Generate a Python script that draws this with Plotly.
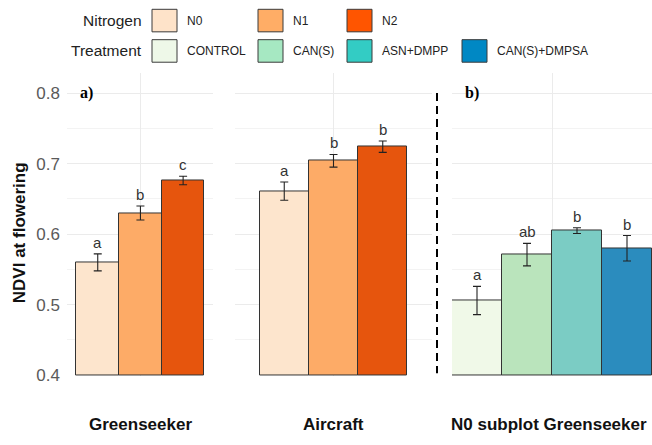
import plotly.graph_objects as go

# ---------------- data ----------------
nitrogen = ["N0", "N1", "N2"]
greenseeker = [0.560, 0.630, 0.676]
greenseeker_err = [0.012, 0.010, 0.006]
greenseeker_letters = ["a", "b", "c"]

aircraft = [0.661, 0.704, 0.724]
aircraft_err = [0.013, 0.009, 0.008]
aircraft_letters = ["a", "b", "b"]

treatments = ["CONTROL", "CAN(S)", "ASN+DMPP", "CAN(S)+DMPSA"]
n0_greenseeker = [0.506, 0.571, 0.605, 0.580]
n0_greenseeker_err = [0.020, 0.016, 0.004, 0.018]
n0_greenseeker_letters = ["a", "ab", "b", "b"]

panel_names = ["Greenseeker", "Aircraft", "N0 subplot Greenseeker"]
panel_tags = ["a)", None, "b)"]
y_ticks = [0.4, 0.5, 0.6, 0.7, 0.8]
y_base = 0.4

# ---------------- styles ----------------
nitrogen_bar_colors = ["#fde5cd", "#fdab67", "#e6550d"]
nitrogen_legend_colors = ["#fee3c9", "#ffad66", "#ff5500"]
treat_bar_colors = ["#f0f9e8", "#bae4bc", "#7bccc4", "#2b8cbe"]
treat_legend_colors = ["#eef8e8", "#a6e8c2", "#33ccc4", "#0088c4"]

W, H = 652, 445
def px(x):
    return x / W
def py(y):
    return 1 - y / H

y_top_px, y_bot_px = 75, 384
per_px = 0.1 / 72
y_range = [0.4 - (y_bot_px - 383) * per_px, 0.8 + (95 - y_top_px) * per_px]

panels = [
    dict(vals=greenseeker, err=greenseeker_err, let=greenseeker_letters,
         cols=nitrogen_bar_colors, dom=(67, 213), rng=[-0.72, 2.70], grid=1),
    dict(vals=aircraft, err=aircraft_err, let=aircraft_letters,
         cols=nitrogen_bar_colors, dom=(235, 432), rng=[-1.0, 3.0], grid=1),
    dict(vals=n0_greenseeker, err=n0_greenseeker_err, let=n0_greenseeker_letters,
         cols=treat_bar_colors, dom=(452, 652), rng=[-0.5, 3.5], grid=1.5),
]

fig = go.Figure()
annotations = []
shapes = []

for i, p in enumerate(panels):
    xa = "x" if i == 0 else f"x{i+1}"
    ya = "y" if i == 0 else f"y{i+1}"
    xs = list(range(len(p["vals"])))
    fig.add_trace(go.Bar(
        x=xs, y=[v - y_base for v in p["vals"]], base=y_base, width=1,
        marker=dict(color=p["cols"], line=dict(color="#333333", width=1)),
        xaxis=xa, yaxis=ya, showlegend=False, hoverinfo="skip"))
    fig.add_trace(go.Scatter(
        x=xs, y=p["vals"], mode="markers",
        marker=dict(size=1, color="rgba(0,0,0,0)"),
        error_y=dict(type="data", array=p["err"], color="#222222",
                     thickness=1.1, width=4),
        xaxis=xa, yaxis=ya, showlegend=False, hoverinfo="skip"))
    for x, v, e, t in zip(xs, p["vals"], p["err"], p["let"]):
        annotations.append(dict(x=x, y=v + e, xref=xa, yref=ya, text=t,
                                showarrow=False, yanchor="bottom", yshift=1,
                                font=dict(size=15, color="#333333",
                                          family="Liberation Sans, Arial")))
    d0, d1 = p["dom"]
    ax_x = dict(domain=[px(d0), px(d1)], range=p["rng"], tickvals=[p["grid"]],
                showticklabels=False, ticks="", showgrid=True,
                gridcolor="#ebebeb", gridwidth=1, zeroline=False,
                showline=False, fixedrange=True)
    ax_y = dict(domain=[py(y_bot_px), py(y_top_px)], range=y_range,
                tickvals=y_ticks, showgrid=True, gridcolor="#ebebeb",
                gridwidth=1, zeroline=False, ticks="",
                minor=dict(dtick=0.05, tick0=0.4, showgrid=True,
                           gridcolor="#f3f3f3", gridwidth=1),
                showticklabels=(i == 0), tickformat=".1f",
                tickfont=dict(size=17, color="#5a5a5a",
                              family="Liberation Sans, Arial"),
                ticklabelstandoff=6, fixedrange=True)
    if i > 0:
        ax_y["matches"] = "y"
    ax_x["anchor"] = ya
    ax_y["anchor"] = xa
    fig.layout["xaxis" if i == 0 else f"xaxis{i+1}"] = ax_x
    fig.layout["yaxis" if i == 0 else f"yaxis{i+1}"] = ax_y

    # bottom panel label
    annotations.append(dict(x=px((d0 + d1) / 2 if i < 2 else 549), y=py(433),
                            xref="paper", yref="paper", text=f"<b>{panel_names[i]}</b>",
                            showarrow=False, xanchor="center", yanchor="middle",
                            font=dict(size=17, color="#111111",
                                      family="Liberation Sans, Arial")))
    # panel tag with white box hiding the grid line
    if panel_tags[i]:
        shapes.append(dict(type="rect", xref="paper", yref="paper",
                           x0=px(d0), x1=px(d0 + 47), y0=py(104), y1=py(86),
                           fillcolor="white", line=dict(width=0), layer="between"))
        annotations.append(dict(x=px(d0 + 11), y=0.8, xref="paper", yref=ya,
                                text=f"<b>{panel_tags[i]}</b>", showarrow=False,
                                xanchor="left", yanchor="middle",
                                font=dict(size=16, color="black",
                                          family="Liberation Serif, Times New Roman")))

# y axis title
annotations.append(dict(x=px(19), y=py(238), xref="paper", yref="paper",
                        text="<b>NDVI at flowering</b>", textangle=-90,
                        showarrow=False, xanchor="center", yanchor="middle",
                        font=dict(size=17, color="#111111",
                                  family="Liberation Sans, Arial")))

# dashed separator
shapes.append(dict(type="line", xref="paper", yref="paper",
                   x0=px(437), x1=px(437), y0=py(95), y1=py(381),
                   line=dict(color="black", width=2, dash="8px,5px")))

# manual legend
swatch_x = [152, 258, 347, 462]
rows = [("Nitrogen", nitrogen, nitrogen_legend_colors, 21),
        ("Treatment", treatments, treat_legend_colors, 52)]
for title, labels, cols, yc in rows:
    annotations.append(dict(x=px(144), y=py(yc), xref="paper", yref="paper",
                            text=title, showarrow=False, xanchor="right",
                            yanchor="middle",
                            font=dict(size=15.5, color="#222222",
                                      family="Liberation Sans, Arial")))
    for lab, col, sx in zip(labels, cols, swatch_x):
        shapes.append(dict(type="rect", xref="paper", yref="paper",
                           x0=px(sx), x1=px(sx + 25), y0=py(yc + 11.5),
                           y1=py(yc - 11.5), fillcolor=col,
                           line=dict(color="#3a3a3a", width=1)))
        annotations.append(dict(x=px(sx + 33), y=py(yc), xref="paper",
                                yref="paper", text=lab, showarrow=False,
                                xanchor="left", yanchor="middle",
                                font=dict(size=12, color="#222222",
                                          family="Liberation Sans, Arial")))

fig.update_layout(
    width=W, height=H, margin=dict(l=0, r=0, t=0, b=0),
    paper_bgcolor="white", plot_bgcolor="white",
    bargap=0, annotations=annotations, shapes=shapes, showlegend=False,
)

page_fix = (
    "var d=document.documentElement,b=document.body;"
    "d.style.margin='0';d.style.padding='0';d.style.overflow='hidden';"
    "b.style.margin='0';b.style.padding='0';b.style.overflow='hidden';"
)
fig.write_html("out.html", config={"displayModeBar": False},
               post_script=page_fix)
